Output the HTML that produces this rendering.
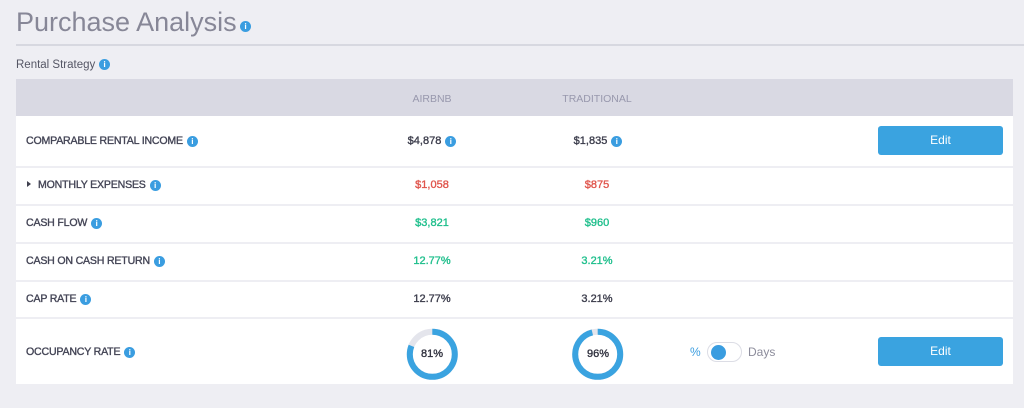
<!DOCTYPE html>
<html><head><meta charset="utf-8"><style>
*{box-sizing:border-box;margin:0;padding:0}
html,body{width:1024px;height:408px;overflow:hidden;background:#eeeef3;font-family:"Liberation Sans",sans-serif}
.abs{position:absolute}
.ic{display:inline-block;width:11px;height:11px;border-radius:50%;background:#3a9de0;color:#fff;font:bold 8.5px/11px "Liberation Sans",sans-serif;text-align:center;flex:none;-webkit-text-stroke:0}
.row{position:absolute;left:16px;width:997px;background:#fff}
.lbl{position:absolute;left:26px;display:flex;align-items:center;height:14px;font-size:10.6px;letter-spacing:-0.2px;color:#444556;-webkit-text-stroke:0.35px #444556;white-space:nowrap}
.lbl .ic{margin-left:4px;letter-spacing:0}
.val{position:absolute;display:flex;align-items:center;justify-content:center;height:14px;width:120px;font-size:11px;color:#3c3d4c;-webkit-text-stroke:0.35px currentColor;white-space:nowrap}
.val .ic{margin-left:4px}
.red{color:#e0554c}.grn{color:#1fbf8c}
.btn{position:absolute;left:878px;width:125px;height:29px;background:#3aa3e0;border-radius:3px;color:#fff;font-size:12px;line-height:29px;text-align:center}
</style></head><body>
<div class="abs" style="left:16px;top:5px;font-size:27px;line-height:34px;color:#878797;white-space:nowrap">Purchase Analysis</div>
<span class="ic abs" style="left:240px;top:21px">i</span>
<div class="abs" style="left:16px;top:44px;width:1008px;height:2px;background:#d7d8e0"></div>
<div class="abs" style="left:16px;top:57px;font-size:11.5px;line-height:16px;color:#555665;white-space:nowrap">Rental Strategy</div>
<span class="ic abs" style="left:99px;top:59px">i</span>

<div class="abs" style="left:16px;top:79px;width:997px;height:37px;background:#d9d9e3"></div>
<div class="abs" style="left:372px;top:92px;width:120px;text-align:center;font-size:10.5px;line-height:14px;color:#9898ad">AIRBNB</div>
<div class="abs" style="left:537px;top:92px;width:120px;text-align:center;font-size:10.5px;line-height:14px;color:#9898ad">TRADITIONAL</div>

<div class="row" style="top:116px;height:50px"></div>
<div class="row" style="top:168px;height:36px"></div>
<div class="row" style="top:206px;height:36px"></div>
<div class="row" style="top:244px;height:36px"></div>
<div class="row" style="top:282px;height:35px"></div>
<div class="row" style="top:319px;height:65px"></div>

<div class="lbl" style="top:134px">COMPARABLE RENTAL INCOME<span class="ic">i</span></div>
<div class="val" style="left:372px;top:134px">$4,878<span class="ic">i</span></div>
<div class="val" style="left:538px;top:134px">$1,835<span class="ic">i</span></div>
<div class="btn" style="top:126px">Edit</div>

<div class="abs" style="left:27px;top:181px;width:0;height:0;border-top:3.5px solid transparent;border-bottom:3.5px solid transparent;border-left:4px solid #40414f"></div>
<div class="lbl" style="left:38px;top:178px">MONTHLY EXPENSES<span class="ic">i</span></div>
<div class="val red" style="left:372px;top:178px">$1,058</div>
<div class="val red" style="left:537px;top:178px">$875</div>

<div class="lbl" style="top:216px">CASH FLOW<span class="ic">i</span></div>
<div class="val grn" style="left:372px;top:216px">$3,821</div>
<div class="val grn" style="left:537px;top:216px">$960</div>

<div class="lbl" style="top:254px">CASH ON CASH RETURN<span class="ic">i</span></div>
<div class="val grn" style="left:372px;top:254px">12.77%</div>
<div class="val grn" style="left:537px;top:254px">3.21%</div>

<div class="lbl" style="top:292px">CAP RATE<span class="ic">i</span></div>
<div class="val" style="left:372px;top:292px">12.77%</div>
<div class="val" style="left:537px;top:292px">3.21%</div>

<div class="lbl" style="top:345px">OCCUPANCY RATE<span class="ic">i</span></div>
<svg class="abs" style="left:0;top:0" width="1024" height="408">
<circle cx="432.3" cy="354.3" r="22.5" fill="none" stroke="#e4e5ec" stroke-width="6"/>
<circle cx="432.3" cy="354.3" r="22.5" fill="none" stroke="#3aa3e0" stroke-width="6" stroke-dasharray="114.5 200" transform="rotate(-90 432.3 354.3)"/>
<circle cx="597.7" cy="354.3" r="22.5" fill="none" stroke="#e4e5ec" stroke-width="6"/>
<circle cx="597.7" cy="354.3" r="22.5" fill="none" stroke="#3aa3e0" stroke-width="6" stroke-dasharray="135.7 200" transform="rotate(-90 597.7 354.3)"/>
</svg>
<div class="val" style="left:372px;top:347px;color:#30313e">81%</div>
<div class="val" style="left:538px;top:347px;color:#30313e">96%</div>
<div class="abs" style="left:690px;top:344px;font-size:12px;line-height:16px;color:#3a9de0">%</div>
<div class="abs" style="left:707px;top:342px;width:35px;height:20px;border:1px solid #dcdde5;border-radius:10px;background:#fff"></div>
<div class="abs" style="left:711px;top:344.5px;width:15px;height:15px;border-radius:50%;background:#3a9de0"></div>
<div class="abs" style="left:748px;top:344px;font-size:12px;line-height:16px;color:#8c8c9b">Days</div>
<div class="btn" style="top:337px">Edit</div>
</body></html>
